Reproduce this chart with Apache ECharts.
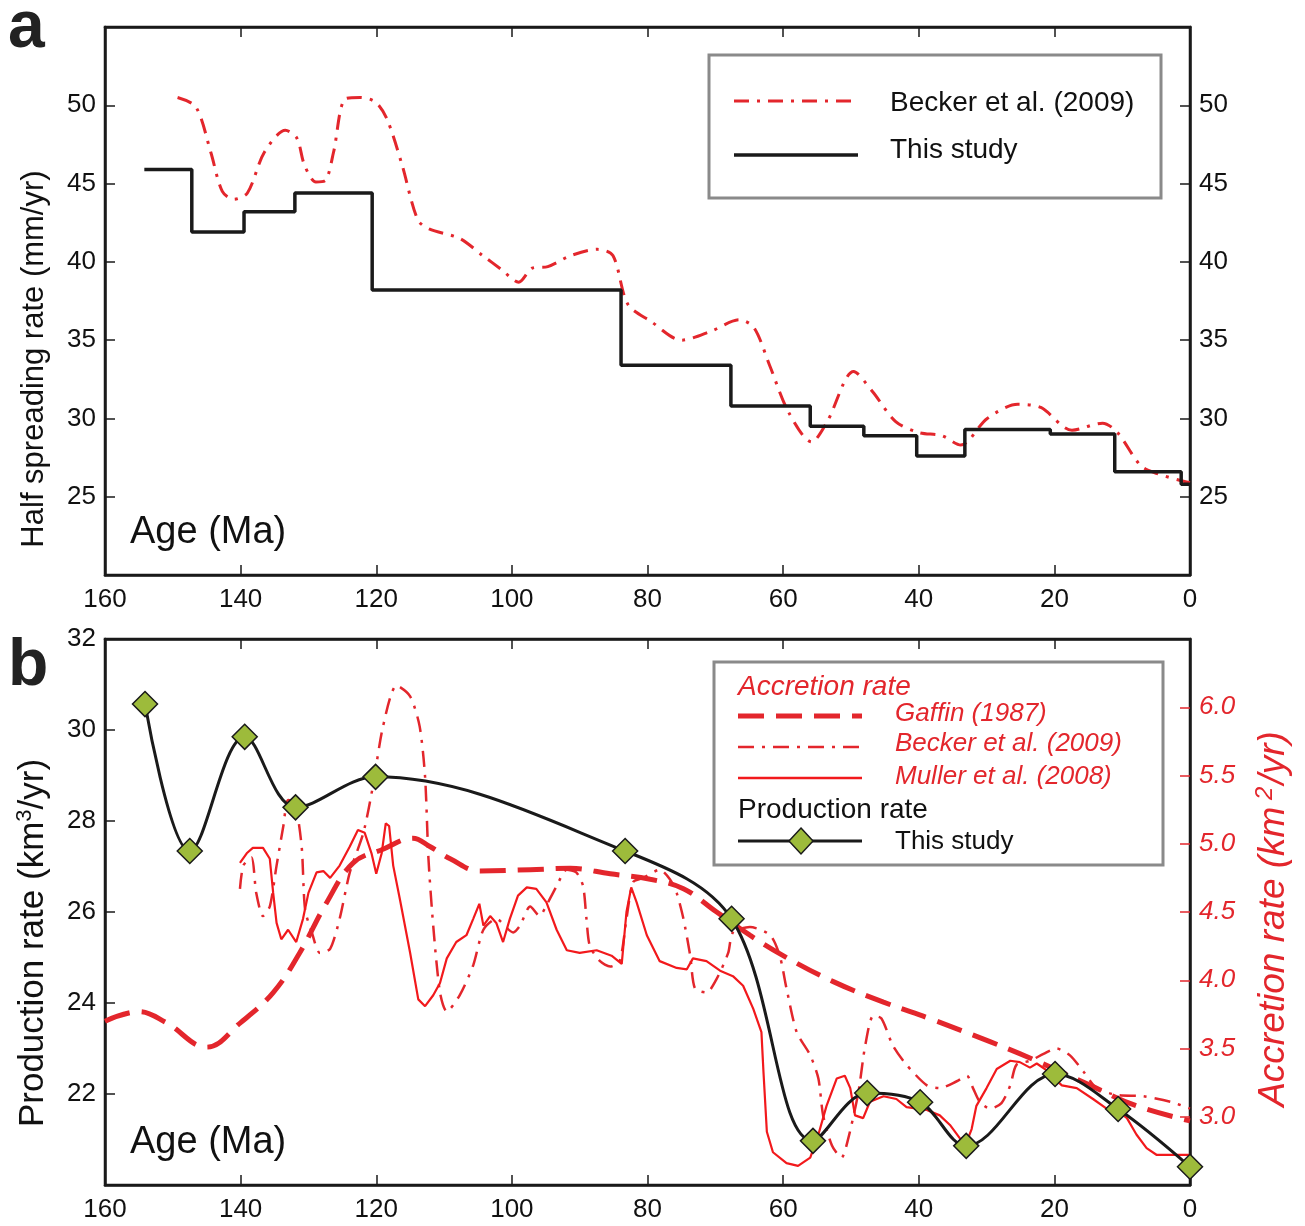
<!DOCTYPE html>
<html><head><meta charset="utf-8">
<script src="https://cdn.jsdelivr.net/npm/echarts@6/dist/echarts.min.js"></script>
<style>html,body{margin:0;padding:0;background:#fff}#c{width:1305px;height:1226px}</style>
</head><body><div id="c"></div>
<script>
// ---------- Panel a : half spreading rate (mm/yr) ----------
const stepAges  = [154.2, 147.2, 139.5, 132.0, 120.6, 83.9, 67.7, 56.0, 48.1, 40.3, 33.2, 20.6, 11.1, 1.3, 0];
const stepRates = [45.9, 41.9, 43.2, 44.4, 38.2, 33.4, 30.8, 29.5, 28.9, 27.6, 29.3, 29.0, 26.6, 25.8];

const beckerAAges  = [149.3,146.6,144.4,142.7,141.0,139.0,136.5,133.4,131.7,130.6,128.9,127.5,126.3,124.6,122.4,120.1,118.4,116.2,113.9,112.2,107.7,104.3,101.5,99.0,97.0,94.7,91.3,87.4,85.1,82.9,79.5,75.0,70.5,66.5,64.3,62.0,59.2,55.8,53.5,49.6,46.8,43.4,40.0,36.6,33.8,29.9,25.4,22.0,17.4,12.9,10.7,7.3,5.0,1.1,0];
const beckerARates = [50.5,49.9,47.0,44.5,44.0,44.4,47.0,48.4,47.9,46.2,45.1,45.2,47.0,50.4,50.5,50.2,49.1,46.2,42.7,42.1,41.5,40.4,39.5,38.7,39.6,39.7,40.4,40.8,40.4,37.3,36.2,35.0,35.6,36.3,35.8,33.4,30.4,28.5,29.8,33.0,31.7,29.8,29.1,28.9,28.3,30.0,30.9,30.7,29.25,29.7,29.1,27.0,26.5,26.0,25.9];

// ---------- Panel b : production rate (km3/yr) and accretion rate (km2/yr) ----------
const prodAges  = [154.1, 147.5, 139.4, 131.9, 120.1, 83.3, 67.6, 55.6, 47.6, 39.8, 33.0, 19.9, 10.6, 0];
const prodRates = [30.57, 27.34, 29.85, 28.30, 28.97, 27.34, 25.85, 20.97, 22.02, 21.82, 20.86, 22.44, 21.67, 20.40];

const gaffinAges = [160,155,151,145,140,135.2,131.3,127.3,123.4,119,114.6,112.1,109.1,104.7,97.3,91.4,85.5,79.6,74.7,69.8,64.9,60,52.6,45.2,37.9,29.5,23.6,14.7,7.9,0];
const gaffinAcc  = [3.70,3.77,3.69,3.51,3.69,3.91,4.20,4.57,4.86,4.96,5.04,4.98,4.89,4.80,4.81,4.82,4.78,4.74,4.67,4.50,4.33,4.18,3.99,3.84,3.71,3.55,3.43,3.23,3.08,2.97];

const beckerBAges = [140.1,139.6,138.4,137.7,136.7,135.7,134.7,133.7,133.0,132.0,131.0,130.5,129.5,128.3,126.8,125.4,123.9,121.9,120.5,119.0,117.0,115.0,113.6,112.8,112.3,111.6,110.6,109.6,107.7,105.7,104.2,102.3,99.8,98.8,97.3,95.9,95.1,93.4,91.9,90.5,89.5,89.0,88.5,87.0,85.5,84.1,83.1,82.1,80.6,78.2,76.7,75.7,74.7,73.7,73.0,71.3,69.8,68.1,67.4,64.9,61.9,60.5,59.5,58.0,56.0,54.8,54.1,52.8,51.4,50.4,48.9,47.9,46.7,45.5,43.8,41.8,38.8,36.9,34.4,32.9,32.0,31.0,29.5,27.8,26.5,25.6,23.6,21.6,19.7,17.7,15.7,13.8,10.8,6.9,2.9,0];
const beckerBAcc  = [4.67,4.84,4.90,4.64,4.47,4.54,4.84,5.13,5.32,5.30,4.98,4.52,4.35,4.20,4.23,4.45,4.79,5.08,5.42,5.86,6.16,6.08,5.86,5.49,4.89,4.40,3.91,3.77,3.89,4.11,4.37,4.45,4.35,4.40,4.54,4.47,4.53,4.69,4.81,4.79,4.69,4.45,4.25,4.14,4.10,4.14,4.45,4.72,4.75,4.81,4.74,4.64,4.45,4.18,3.94,3.91,4.01,4.20,4.35,4.39,4.33,4.18,3.94,3.62,3.45,3.28,3.01,2.79,2.70,2.84,3.18,3.52,3.74,3.72,3.52,3.38,3.23,3.21,3.26,3.30,3.21,3.11,3.06,3.10,3.23,3.38,3.41,3.46,3.50,3.45,3.33,3.21,3.16,3.15,3.11,3.06];

const mullerAges = [140.1,139.1,138.2,136.7,135.7,135.2,134.7,134.0,133.0,131.8,130.8,130.0,128.8,127.8,126.8,125.4,123.9,122.7,121.7,120.7,120.0,119.2,118.6,118.1,117.5,116.5,115.0,113.8,112.8,111.6,110.6,109.6,108.2,106.7,105.7,104.8,104.2,103.2,102.3,101.3,100.3,99.1,97.8,96.4,94.9,93.4,91.9,90.0,87.5,85.3,83.8,83.1,82.4,81.6,80.1,78.2,75.7,74.2,73.3,71.3,69.3,67.4,65.9,64.4,63.2,62.9,62.4,61.5,59.5,57.8,56.0,54.8,53.6,52.1,50.9,50.1,49.4,48.2,47.2,45.2,43.3,41.8,38.8,36.9,35.4,33.9,32.9,32.2,31.5,30.0,28.5,26.5,25.1,23.6,22.6,21.4,20.2,18.9,16.7,14.3,12.3,10.8,9.3,7.9,6.4,4.9,2.9,1.0,0];
const mullerAcc  = [4.86,4.93,4.97,4.97,4.89,4.64,4.42,4.30,4.37,4.28,4.45,4.64,4.79,4.80,4.75,4.84,4.98,5.10,5.08,4.93,4.78,4.93,5.15,5.13,4.84,4.59,4.20,3.86,3.81,3.89,3.98,4.16,4.28,4.33,4.45,4.56,4.40,4.47,4.42,4.28,4.45,4.62,4.68,4.67,4.57,4.37,4.22,4.20,4.22,4.18,4.12,4.50,4.68,4.57,4.33,4.14,4.09,4.08,4.16,4.14,4.07,4.03,3.96,3.79,3.62,3.33,2.89,2.74,2.66,2.64,2.70,2.87,3.08,3.28,3.30,3.21,3.01,2.99,3.11,3.15,3.13,3.07,3.05,3.01,2.94,2.84,2.82,2.91,3.08,3.21,3.35,3.41,3.40,3.36,3.39,3.35,3.29,3.23,3.21,3.13,3.06,3.05,2.99,2.87,2.77,2.72,2.72,2.72,2.72];

// tick values shown on the axes
const spreadTicks = [25, 30, 35, 40, 45, 50];
const prodTicks   = [22, 24, 26, 28, 30, 32];
const accTicks    = [3.0, 3.5, 4.0, 4.5, 5.0, 5.5, 6.0];

// ---------- build ----------
const zip = (a, b) => a.map((v, i) => [v, b[i]]);
const stepPairs = [];
stepRates.forEach((r, i) => { stepPairs.push([stepAges[i], r]); stepPairs.push([stepAges[i + 1], r]); });

const FONT = "'Liberation Sans', Arial, Helvetica, sans-serif";
const BLACK = '#1a1a1a';
const RED = '#e3262c';
const MRED = '#f2191c';
const GREEN = '#9dbb3b';

function xAx(gi, pos, labels) {
  return {
    type: 'value', gridIndex: gi, position: pos, min: 0, max: 160, interval: 20, inverse: true,
    axisLine: { show: true, onZero: false, lineStyle: { color: BLACK, width: 2.5 } },
    axisTick: { show: true, inside: true, length: 10, lineStyle: { color: BLACK, width: 1.5 } },
    axisLabel: { show: labels, fontSize: 26, color: '#111', fontFamily: FONT, margin: 12 },
    splitLine: { show: false }
  };
}
function yAx(gi, pos, min, max, ticks, fmt, color, italic, extra) {
  return Object.assign({
    type: 'value', gridIndex: gi, position: pos, min: min, max: max,
    axisLine: { show: true, onZero: false, lineStyle: { color: BLACK, width: 2.5 } },
    axisTick: { show: true, inside: true, length: 10, customValues: ticks, lineStyle: { color: color, width: 1.5 } },
    axisLabel: { customValues: ticks, formatter: fmt, fontSize: 26, color: color === BLACK ? '#111' : color,
      fontStyle: italic ? 'italic' : 'normal', fontFamily: FONT, margin: 9 },
    splitLine: { show: false }
  }, extra || {});
}

const chart = echarts.init(document.getElementById('c'), null, { renderer: 'canvas' });
const opt = {
  animation: false,
  backgroundColor: '#fff',
  grid: [
    { left: 105, top: 27, width: 1085, height: 548, show: true, borderColor: BLACK, borderWidth: 2.5 },
    { left: 105, top: 639, width: 1085, height: 546, show: true, borderColor: BLACK, borderWidth: 2.5 }
  ],
  xAxis: [xAx(0, 'bottom', true), xAx(0, 'top', false), xAx(1, 'bottom', true), xAx(1, 'top', false)],
  yAxis: [
    yAx(0, 'left', 20, 55, spreadTicks, v => String(v), BLACK, false, {
      name: '{n|Half spreading rate (mm/yr)}', nameLocation: 'middle', nameGap: 55, nameRotate: 90,
      nameTextStyle: { fontFamily: FONT, padding: [0, 116, 0, 0], rich: {
        n: { fontSize: 31, color: '#111', fontFamily: FONT }
      } }
    }),
    yAx(0, 'right', 20, 55, spreadTicks, v => String(v), BLACK, false),
    yAx(1, 'left', 20, 32, prodTicks, v => String(v), BLACK, false, {
      name: '{n|Production rate (km}{s|3}{n|/yr)}', nameLocation: 'middle', nameGap: 53, nameRotate: 90,
      nameTextStyle: { fontFamily: FONT, padding: [0, 62, 0, 0], rich: {
        n: { fontSize: 35, color: '#111', fontFamily: FONT },
        s: { fontSize: 22, color: '#111', fontFamily: FONT, padding: [0, 0, 16, 0] }
      } }
    }),
    yAx(1, 'right', 2.5, 6.5, accTicks, v => v.toFixed(1), RED, true, {
      name: '{n|Accretion rate (km}{s| 2}{n|/yr)}', nameLocation: 'middle', nameGap: 63, nameRotate: 90,
      nameTextStyle: { fontFamily: FONT, padding: [0, 14, 0, 0], rich: {
        n: { fontSize: 37, color: RED, fontStyle: 'italic', fontFamily: FONT },
        s: { fontSize: 24, color: RED, fontStyle: 'italic', fontFamily: FONT, padding: [0, 2, 18, 0] }
      } }
    })
  ],
  series: [
    { name: 'Becker a', type: 'line', xAxisIndex: 0, yAxisIndex: 0, data: zip(beckerAAges, beckerARates),
      smooth: 0.3, showSymbol: false, lineStyle: { color: RED, width: 3, type: [15, 8, 3, 8] }, z: 2 },
    { name: 'This study a', type: 'line', xAxisIndex: 0, yAxisIndex: 0, data: stepPairs,
      showSymbol: false, lineStyle: { color: BLACK, width: 3.5 }, z: 3 },
    { name: 'Gaffin', type: 'line', xAxisIndex: 2, yAxisIndex: 3, data: zip(gaffinAges, gaffinAcc),
      smooth: 0.4, showSymbol: false, lineStyle: { color: RED, width: 5, type: [26, 12] }, z: 2 },
    { name: 'Becker b', type: 'line', xAxisIndex: 2, yAxisIndex: 3, data: zip(beckerBAges, beckerBAcc),
      smooth: 0.25, showSymbol: false, lineStyle: { color: RED, width: 2.5, type: [16, 8, 3, 8] }, z: 2 },
    { name: 'Muller', type: 'line', xAxisIndex: 2, yAxisIndex: 3, data: zip(mullerAges, mullerAcc),
      showSymbol: false, lineStyle: { color: MRED, width: 2.2 }, z: 2 },
    { name: 'Production', type: 'line', xAxisIndex: 2, yAxisIndex: 2, data: zip(prodAges, prodRates),
      smooth: 0.35, symbol: 'diamond', symbolSize: 25, showSymbol: true,
      lineStyle: { color: BLACK, width: 3 },
      itemStyle: { color: GREEN, borderColor: BLACK, borderWidth: 1.5 }, z: 5 }
  ],
  graphic: [
    { type: 'text', left: 8, top: -4, style: { text: 'a', fontSize: 66, fontWeight: 'bold', fontFamily: FONT, fill: '#222' } },
    { type: 'text', left: 8, top: 634, style: { text: 'b', fontSize: 66, fontWeight: 'bold', fontFamily: FONT, fill: '#222' } },
    { type: 'text', left: 130, top: 514, style: { text: 'Age (Ma)', fontSize: 38, fontFamily: FONT, fill: '#111' }, z: 10 },
    { type: 'text', left: 130, top: 1124, style: { text: 'Age (Ma)', fontSize: 38, fontFamily: FONT, fill: '#111' }, z: 10 },
    // legend a
    { type: 'rect', shape: { x: 709, y: 55, width: 452, height: 143 }, style: { fill: '#fff', stroke: '#8a8a8a', lineWidth: 3 }, z: 20 },
    { type: 'line', shape: { x1: 734, y1: 101, x2: 858, y2: 101 }, style: { stroke: RED, lineWidth: 3, lineDash: [15, 8, 3, 8] }, z: 21 },
    { type: 'text', x: 890, y: 103, style: { text: 'Becker et al. (2009)', fontSize: 28, fontFamily: FONT, fill: '#111', verticalAlign: 'middle' }, z: 21 },
    { type: 'line', shape: { x1: 734, y1: 155, x2: 858, y2: 155 }, style: { stroke: BLACK, lineWidth: 3.5 }, z: 21 },
    { type: 'text', x: 890, y: 150, style: { text: 'This study', fontSize: 28, fontFamily: FONT, fill: '#111', verticalAlign: 'middle' }, z: 21 },
    // legend b
    { type: 'rect', shape: { x: 714, y: 662, width: 449, height: 203 }, style: { fill: '#fff', stroke: '#8a8a8a', lineWidth: 3 }, z: 20 },
    { type: 'text', x: 738, y: 687, style: { text: 'Accretion rate', fontSize: 28, fontStyle: 'italic', fontFamily: FONT, fill: RED, verticalAlign: 'middle' }, z: 21 },
    { type: 'line', shape: { x1: 738, y1: 716, x2: 862, y2: 716 }, style: { stroke: RED, lineWidth: 5, lineDash: [26, 12] }, z: 21 },
    { type: 'text', x: 895, y: 714, style: { text: 'Gaffin (1987)', fontSize: 26, fontStyle: 'italic', fontFamily: FONT, fill: RED, verticalAlign: 'middle' }, z: 21 },
    { type: 'line', shape: { x1: 738, y1: 747, x2: 862, y2: 747 }, style: { stroke: RED, lineWidth: 2.5, lineDash: [16, 8, 3, 8] }, z: 21 },
    { type: 'text', x: 895, y: 744, style: { text: 'Becker et al. (2009)', fontSize: 26, fontStyle: 'italic', fontFamily: FONT, fill: RED, verticalAlign: 'middle' }, z: 21 },
    { type: 'line', shape: { x1: 738, y1: 778, x2: 862, y2: 778 }, style: { stroke: MRED, lineWidth: 2.5 }, z: 21 },
    { type: 'text', x: 895, y: 777, style: { text: 'Muller et al. (2008)', fontSize: 26, fontStyle: 'italic', fontFamily: FONT, fill: RED, verticalAlign: 'middle' }, z: 21 },
    { type: 'text', x: 738, y: 810, style: { text: 'Production rate', fontSize: 28, fontFamily: FONT, fill: '#111', verticalAlign: 'middle' }, z: 21 },
    { type: 'line', shape: { x1: 738, y1: 841, x2: 862, y2: 841 }, style: { stroke: BLACK, lineWidth: 3 }, z: 21 },
    { type: 'polygon', shape: { points: [[801, 828], [813, 841], [801, 854], [789, 841]] }, style: { fill: GREEN, stroke: BLACK, lineWidth: 1.5 }, z: 22 },
    { type: 'text', x: 895, y: 842, style: { text: 'This study', fontSize: 26, fontFamily: FONT, fill: '#111', verticalAlign: 'middle' }, z: 21 }
  ]
};
chart.setOption(opt);
</script>
</body></html>
